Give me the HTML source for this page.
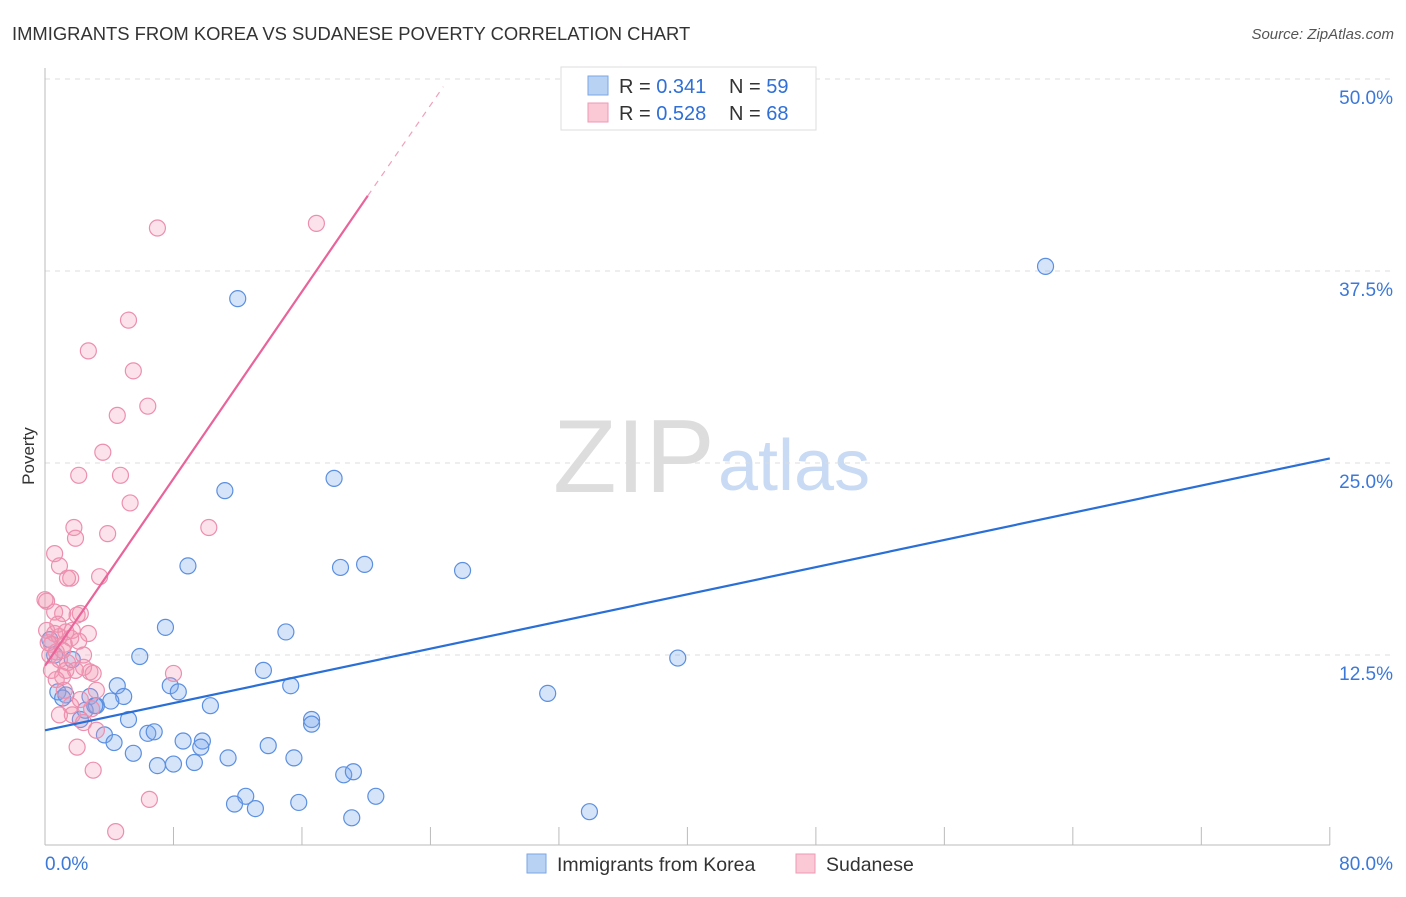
<!DOCTYPE html>
<html><head><meta charset="utf-8"><style>
body{margin:0;background:#fff;font-family:"Liberation Sans",sans-serif;}
svg text{font-family:"Liberation Sans",sans-serif;}
</style></head><body>
<svg id="chart" width="1406" height="892">
<text x="12" y="40" font-size="18.4" fill="#333">IMMIGRANTS FROM KOREA VS SUDANESE POVERTY CORRELATION CHART</text>
<text x="1394" y="39" font-size="15" fill="#555" font-style="italic" text-anchor="end">Source: ZipAtlas.com</text>
<text x="34" y="456" font-size="17" fill="#333" transform="rotate(-90 34 456)" text-anchor="middle">Poverty</text>
<g><text x="553" y="492" font-size="104" fill="#ddd" font-family="Liberation Serif,serif">ZIP</text><text x="718" y="490" font-size="72" fill="#c8daf4">atlas</text></g>
<g id="grid"></g><g id="axes"></g><g id="marks"></g><g id="lines"></g>
<g>
<rect x="561" y="67" width="255" height="63" fill="#fff" stroke="#ddd"/>
<rect x="588" y="76" width="20" height="19" fill="#b8d2f4" stroke="#7aa6e6"/>
<rect x="588" y="103" width="20" height="19" fill="#fbc8d6" stroke="#ee9ab4"/>
<text x="619" y="93" font-size="20" fill="#333">R = <tspan fill="#2f6fd6">0.341</tspan><tspan x="729">N = </tspan><tspan fill="#2f6fd6">59</tspan></text>
<text x="619" y="120" font-size="20" fill="#333">R = <tspan fill="#2f6fd6">0.528</tspan><tspan x="729">N = </tspan><tspan fill="#2f6fd6">68</tspan></text>
</g>
<g>
<rect x="527" y="854" width="19" height="19" fill="#b8d2f4" stroke="#7aa6e6"/>
<text x="557" y="871" font-size="19.5" fill="#333">Immigrants from Korea</text>
<rect x="796" y="854" width="19" height="19" fill="#fbc8d6" stroke="#ee9ab4"/>
<text x="826" y="871" font-size="19.5" fill="#333">Sudanese</text>
</g>
</svg>
<script>
const yTicks=[12.5,25,37.5,50];
const yTickLabels=["12.5%","25.0%","37.5%","50.0%"];
const xTicks=[0,8,16,24,32,40,48,56,64,72,80];
const koreaX=[62.3,12.0,11.2,18.0,8.9,18.4,19.9,26.0,7.5,15.0,39.4,5.9,13.6,4.5,7.8,8.3,15.3,31.3,0.8,1.3,2.8,4.9,4.1,3.2,10.3,5.2,16.6,16.6,2.2,3.7,6.4,6.8,8.6,9.8,9.7,4.3,13.9,5.5,11.4,15.5,7.0,8.0,9.3,18.6,19.2,20.6,12.5,11.8,13.1,15.8,19.1,33.9,0.3,0.6,1.7,1.1,2.5,3.1];
const koreaY=[37.8,35.7,23.2,24.0,18.3,18.2,18.4,18.0,14.3,14.0,12.3,12.4,11.5,10.5,10.5,10.1,10.5,10.0,10.1,9.9,9.8,9.8,9.5,9.2,9.2,8.3,8.3,8.0,8.3,7.3,7.4,7.5,6.9,6.9,6.5,6.8,6.6,6.1,5.8,5.8,5.3,5.4,5.5,4.7,4.9,3.3,3.3,2.8,2.5,2.9,1.9,2.3,13.5,12.5,12.2,9.7,8.9,9.2];
const sudX=[7.0,16.9,5.2,2.7,5.5,6.4,4.5,3.6,2.1,4.7,5.3,10.2,1.8,1.9,3.9,0.6,0.9,1.6,1.4,3.4,0.1,0.6,1.1,2.2,2.0,0.1,0.6,0.9,1.6,2.7,1.7,0.4,1.2,2.1,0.3,0.7,0.9,1.4,2.4,1.9,2.8,2.4,3.0,8.0,0.4,1.3,1.1,0.7,3.2,1.2,1.6,2.9,0.9,1.7,2.4,3.2,2.0,3.0,6.5,4.4,0.2,0.8,0,1.1,2.2,1.3];
const sudY=[40.3,40.6,34.3,32.3,31.0,28.7,28.1,25.7,24.2,24.2,22.4,20.8,20.8,20.1,20.4,19.1,18.3,17.5,17.5,17.6,16.0,15.3,15.2,15.2,15.1,14.1,13.9,13.7,13.6,13.9,14.1,13.2,13.2,13.4,12.5,12.7,12.2,12.0,12.5,11.5,11.4,11.7,11.3,11.3,11.5,11.5,11.1,10.9,10.2,10.2,9.2,9.0,8.6,8.6,8.1,7.6,6.5,5.0,3.1,1.0,13.3,14.5,16.1,12.8,9.6,14.0];
const koreaLine=[0,7.6,80,25.3];
const sudLine=[0,11.8,20.1,42.4,24.8,49.5];
const X=v=>45+v*16.06, Y=v=>847-v*15.36;
const NS="http://www.w3.org/2000/svg";
function mk(parent,tag,attrs){const e=document.createElementNS(NS,tag);for(const k in attrs)e.setAttribute(k,attrs[k]);document.getElementById(parent).appendChild(e);return e;}
yTicks.forEach((t,i)=>{
 const g=mk("grid","line",{x1:45,x2:1394,y1:Y(t),y2:Y(t),stroke:"#ddd","stroke-dasharray":"5,5"});
 
 
 const l=mk("axes","text",{x:1393,y:Y(t)+25,"font-size":19,fill:"#3b78d8","text-anchor":"end"});l.textContent=yTickLabels[i];
 
 
});
const ax=mk("axes","line",{x1:45,x2:1330,y1:845,y2:845,stroke:"#bbb"});


const ay=mk("axes","line",{x1:45,x2:45,y1:68,y2:845,stroke:"#bbb"});


xTicks.forEach(t=>{const e=mk("axes","line",{x1:X(t),x2:X(t),y1:827,y2:845,stroke:"#bbb"});
 
 });
const x0=mk("axes","text",{x:45,y:870,"font-size":19,fill:"#3b78d8"});x0.textContent="0.0%";


const x1=mk("axes","text",{x:1393,y:870,"font-size":19,fill:"#3b78d8","text-anchor":"end"});x1.textContent="80.0%";


koreaX.forEach((v,i)=>{const c=mk("marks","circle",{cx:X(v),cy:Y(koreaY[i]),r:8,fill:"rgba(120,165,235,0.3)",stroke:"#5b8fe0","stroke-width":1.2});
 
 });
sudX.forEach((v,i)=>{const c=mk("marks","circle",{cx:X(v),cy:Y(sudY[i]),r:8,fill:"rgba(245,150,180,0.28)",stroke:"#ec8fae","stroke-width":1.2});
 
 });
const bl=mk("lines","line",{x1:X(koreaLine[0]),y1:Y(koreaLine[1]),x2:X(koreaLine[2]),y2:Y(koreaLine[3]),stroke:"#2a6fd6","stroke-width":2.2});


const pl=mk("lines","line",{x1:X(sudLine[0]),y1:Y(sudLine[1]),x2:X(sudLine[2]),y2:Y(sudLine[3]),stroke:"#e8649a","stroke-width":2.2});


const pd=mk("lines","line",{x1:X(sudLine[2]),y1:Y(sudLine[3]),x2:X(sudLine[4]),y2:Y(sudLine[5]),stroke:"#f0a0bc","stroke-width":1.2,"stroke-dasharray":"6,6"});


</script>
</body></html>
